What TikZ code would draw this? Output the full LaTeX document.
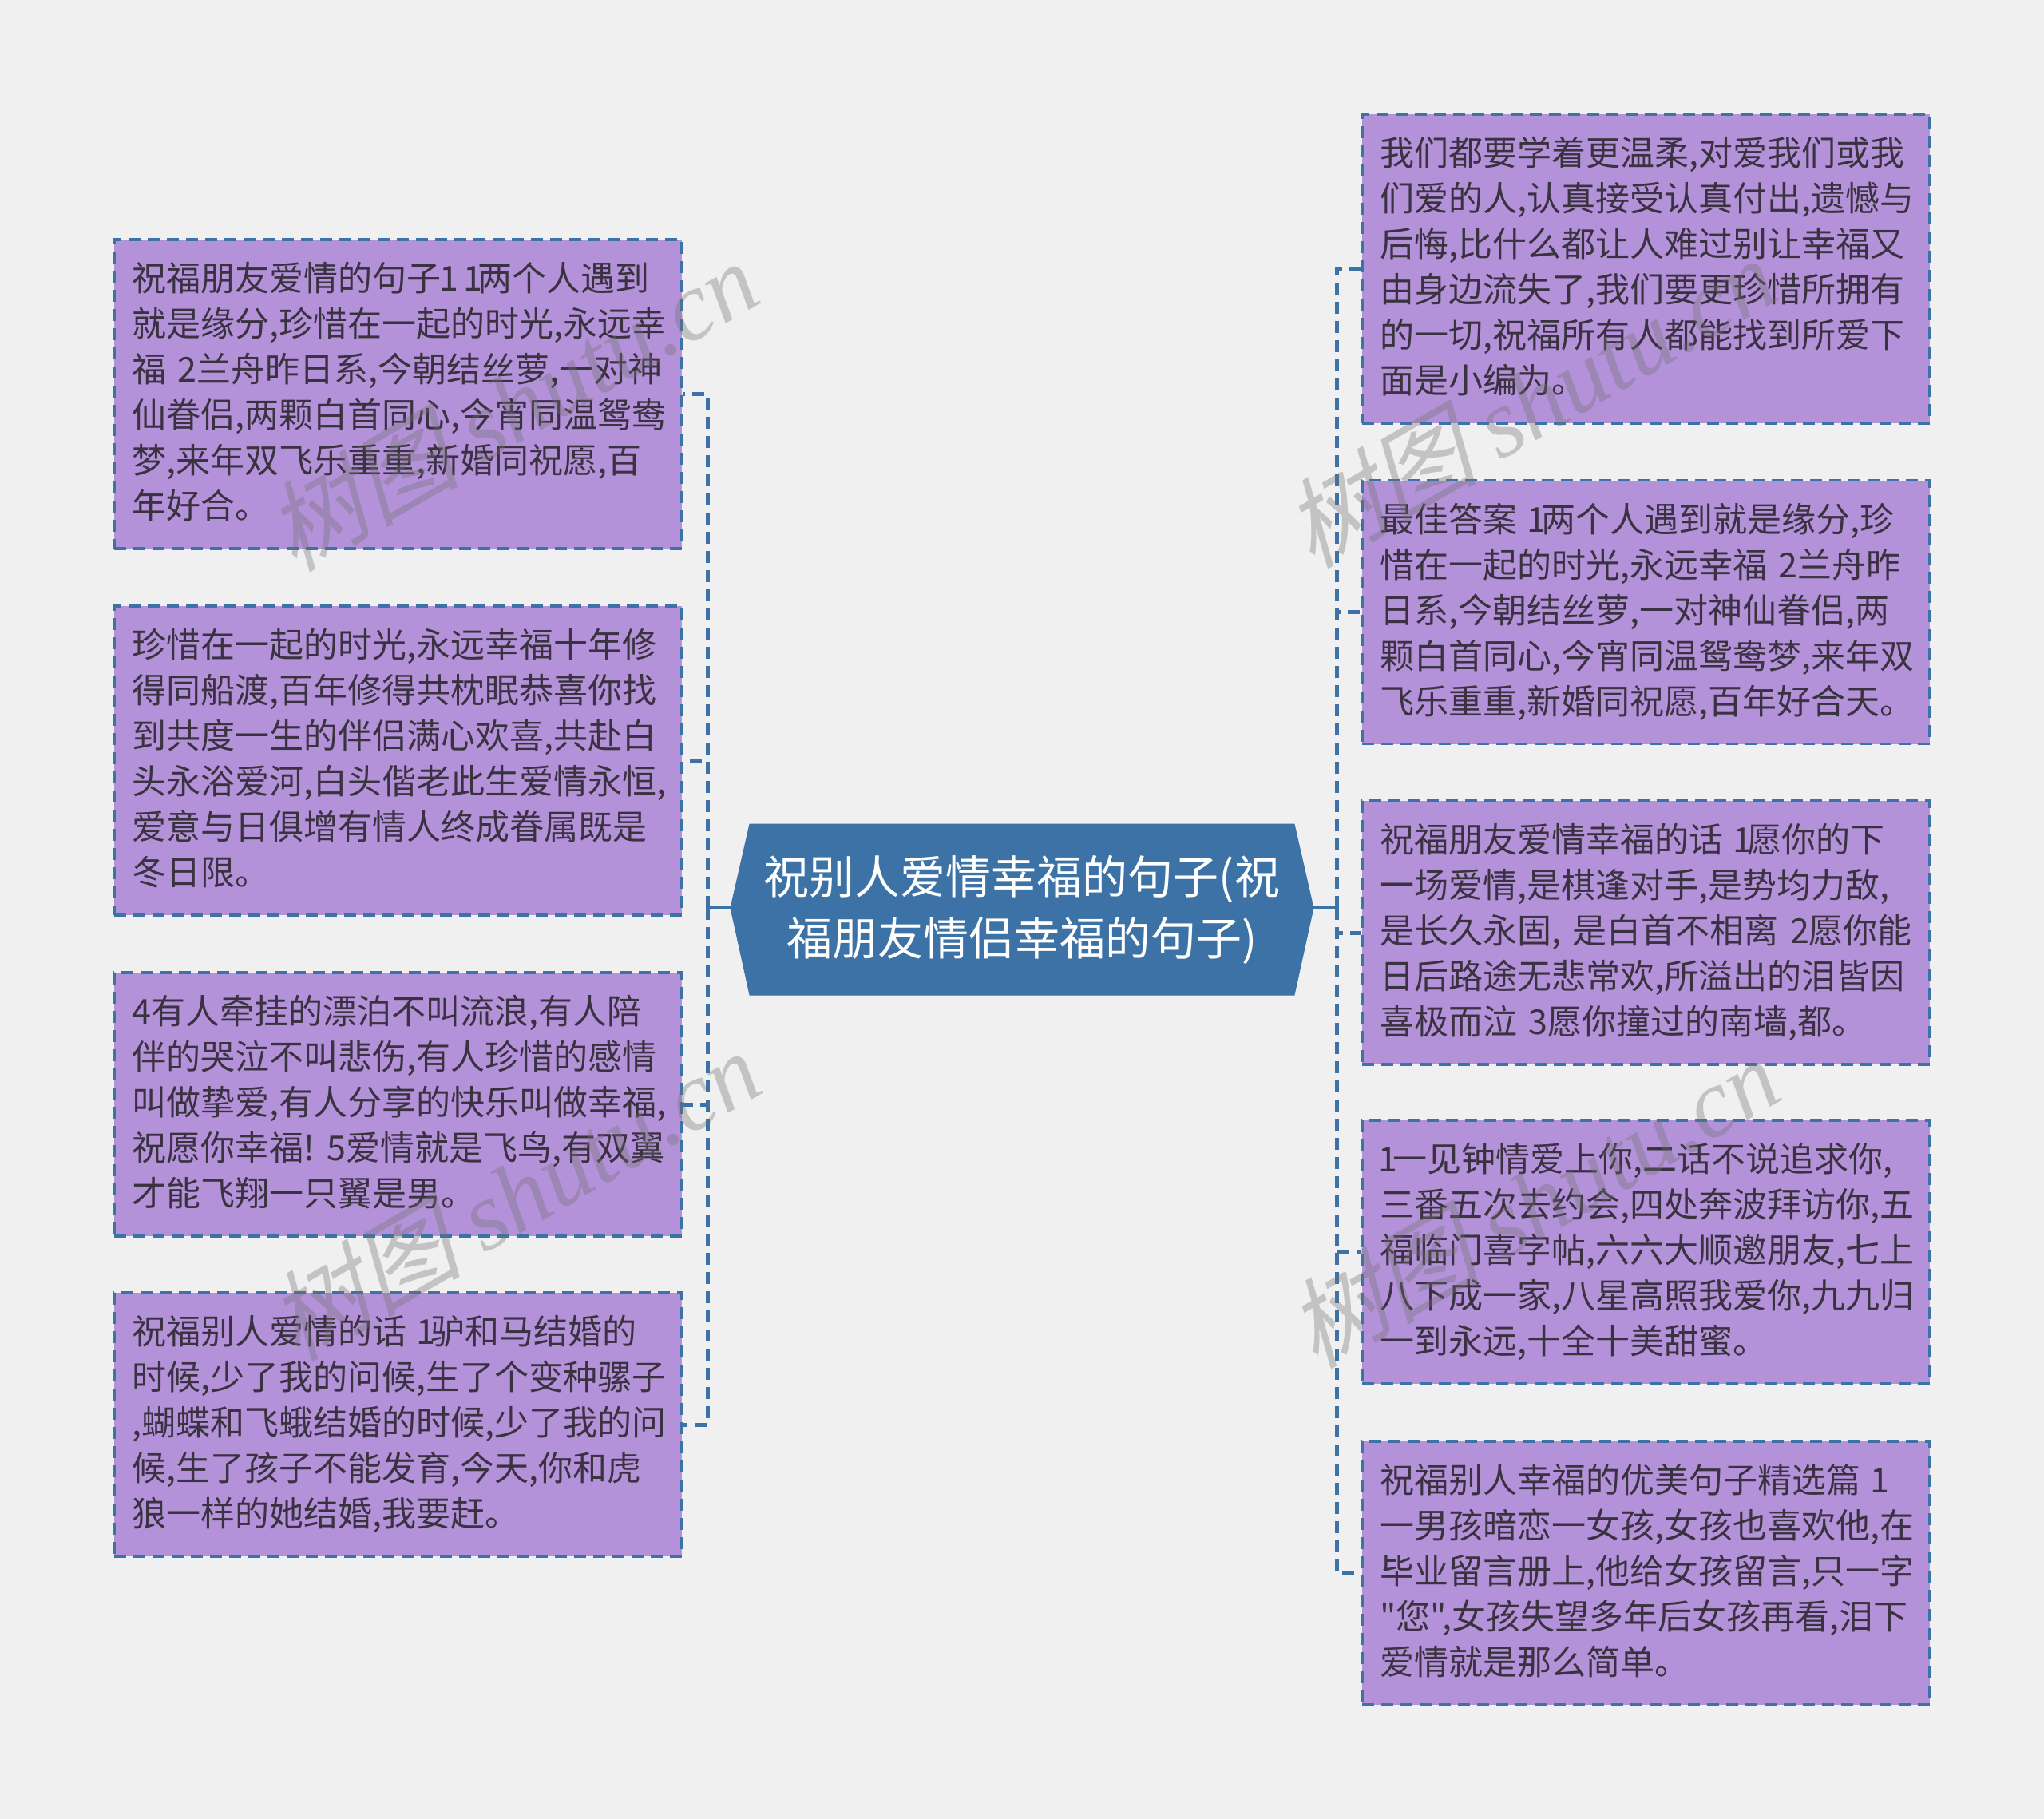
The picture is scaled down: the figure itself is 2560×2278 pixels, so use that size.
\documentclass[tikz,border=0pt]{standalone}
\usepackage{fontspec}
\setmainfont{Noto Sans CJK SC}
\newfontfamily\bodycjk{Noto Sans CJK SC}
\newfontfamily\wmcjk[FakeSlant=0.25]{Noto Sans CJK SC}
\newfontfamily\wmlat{Liberation Serif Italic}
\definecolor{bgc}{HTML}{F0F0F0}
\definecolor{boxc}{HTML}{B492D9}
\definecolor{linec}{HTML}{3C72A5}
\definecolor{txtc}{HTML}{3A3240}
\definecolor{wmc}{HTML}{707070}
\newcommand{\lnx}[1]{\mbox{#1}}
\newcommand{\lnz}[1]{\mbox{\rule[-9pt]{0pt}{9pt}#1}}
\newcommand{\dn}{\kern-2pt 1\kern-6pt}
\tikzset{
  x=1pt,y=-1pt,
  leaf/.style={draw=linec,fill=boxc,line width=3.5pt,dash pattern=on 15pt off 9pt,rectangle,minimum width=711pt,inner sep=0pt,
    text=txtc,align=left,text width=666pt,font=\bodycjk\fontsize{43}{57}\selectfont},
  hubshape/.style={fill=linec,draw=linec,line width=1pt},
  hub/.style={inner sep=0pt,text=white,align=center,font=\bodycjk\fontsize{57}{77}\selectfont},
  link/.style={draw=linec,line width=5pt,dash pattern=on 15pt off 9pt},
  trunk/.style={draw=linec,line width=4pt},
  wm/.style={text=wmc,opacity=0.35,rotate=30,font=\fontsize{122}{122}\selectfont,inner sep=0pt}
}
\newcommand{\wmtext}{{\wmcjk 树图} {\wmlat shutu.cn}}
\begin{document}
\begin{tikzpicture}
\useasboundingbox[fill=bgc] (0,0) rectangle (2560,2278);
% hub
\coordinate (hl) at (915,1137);
\coordinate (hr) at (1645,1137);
\path[hubshape] (939,1032) -- (1621,1032) -- (hr) -- (1621,1246) -- (939,1246) -- (hl) -- cycle;
\node[hub] (hub) at (1280,1140) {祝别人爱情幸福的句子(祝\\福朋友情侣幸福的句子)};
% left leaves
\node[leaf,minimum height=387pt] (L1) at (498.5,493.5) {\lnx{祝福朋友爱情的句子\dn{} \dn{}两个人遇到}\\\lnx{就是缘分,珍惜在一起的时光,永远幸}\\\lnx{福 2兰舟昨日系,今朝结丝萝,一对神}\\\lnx{仙眷侣,两颗白首同心,今宵同温鸳鸯}\\\lnx{梦,来年双飞乐重重,新婚同祝愿,百}\\\lnz{年好合。}};
\node[leaf,minimum height=387pt] (L2) at (498.5,952.5) {\lnx{珍惜在一起的时光,永远幸福十年修}\\\lnx{得同船渡,百年修得共枕眠恭喜你找}\\\lnx{到共度一生的伴侣满心欢喜,共赴白}\\\lnx{头永浴爱河,白头偕老此生爱情永恒,}\\\lnx{爱意与日俱增有情人终成眷属既是}\\\lnz{冬日限。}};
\node[leaf,minimum height=330pt] (L3) at (498.5,1383) {\lnx{4有人牵挂的漂泊不叫流浪,有人陪}\\\lnx{伴的哭泣不叫悲伤,有人珍惜的感情}\\\lnx{叫做挚爱,有人分享的快乐叫做幸福,}\\\lnx{祝愿你幸福!\kern-6pt{} 5爱情就是飞鸟,有双翼}\\\lnz{才能飞翔一只翼是男。}};
\node[leaf,minimum height=330pt] (L4) at (498.5,1784) {\lnx{祝福别人爱情的话 \dn{}驴和马结婚的}\\\lnx{时候,少了我的问候,生了个变种骡子}\\\lnx{,蝴蝶和飞蛾结婚的时候,少了我的问}\\\lnx{候,生了孩子不能发育,今天,你和虎}\\\lnz{狼一样的她结婚,我要赶。}};
% right leaves
\node[leaf,minimum height=387pt] (R1) at (2061.5,336.5) {\lnx{我们都要学着更温柔,对爱我们或我}\\\lnx{们爱的人,认真接受认真付出,遗憾与}\\\lnx{后悔,比什么都让人难过别让幸福又}\\\lnx{由身边流失了,我们要更珍惜所拥有}\\\lnx{的一切,祝福所有人都能找到所爱下}\\\lnz{面是小编为。}};
\node[leaf,minimum height=330pt] (R2) at (2061.5,766.5) {\lnx{最佳答案 \dn{}两个人遇到就是缘分,珍}\\\lnx{惜在一起的时光,永远幸福 2兰舟昨}\\\lnx{日系,今朝结丝萝,一对神仙眷侣,两}\\\lnx{颗白首同心,今宵同温鸳鸯梦,来年双}\\\lnz{飞乐重重,新婚同祝愿,百年好合天。}};
\node[leaf,minimum height=330pt] (R3) at (2061.5,1168) {\lnx{祝福朋友爱情幸福的话 \dn{}愿你的下}\\\lnx{一场爱情,是棋逢对手,是势均力敌,}\\\lnx{是长久永固, 是白首不相离 2愿你能}\\\lnx{日后路途无悲常欢,所溢出的泪皆因}\\\lnz{喜极而泣 3愿你撞过的南墙,都。}};
\node[leaf,minimum height=330pt] (R4) at (2061.5,1568) {\lnx{\dn{}一见钟情爱上你,二话不说追求你,}\\\lnx{三番五次去约会,四处奔波拜访你,五}\\\lnx{福临门喜字帖,六六大顺邀朋友,七上}\\\lnx{八下成一家,八星高照我爱你,九九归}\\\lnz{一到永远,十全十美甜蜜。}};
\node[leaf,minimum height=330pt] (R5) at (2061.5,1970) {\lnx{祝福别人幸福的优美句子精选篇 \dn{}}\\\lnx{一男孩暗恋一女孩,女孩也喜欢他,在}\\\lnx{毕业留言册上,他给女孩留言,只一字}\\\lnx{"您",女孩失望多年后女孩再看,泪下}\\\lnz{爱情就是那么简单。}};
% connectors
\coordinate (sl) at (886,1137);
\coordinate (sr) at (1674,1137);
\draw[trunk] (hl) -- (sl);
\draw[trunk] (hr) -- (sr);
\foreach \n in {L1,L2,L3,L4}{ \draw[link] (sl) |- (\n.east); }
\foreach \n in {R1,R2,R3,R4,R5}{ \draw[link] (sr) |- (\n.west); }
% watermarks
\node[wm] (w1) at (640,507) {\wmtext};
\node[wm] (w2) at (1915,503) {\wmtext};
\node[wm] (w3) at (643,1496) {\wmtext};
\node[wm] (w4) at (1919,1505) {\wmtext};
\end{tikzpicture}
\end{document}
